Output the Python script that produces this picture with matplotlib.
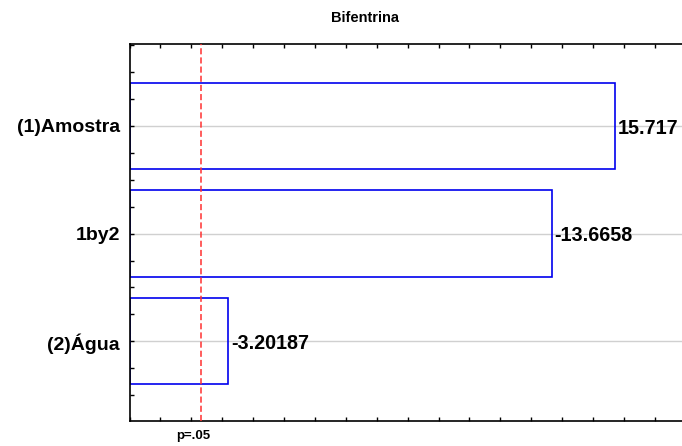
import numpy as np
import matplotlib
matplotlib.use("Agg")
import matplotlib.pyplot as plt
from matplotlib.ticker import MultipleLocator

# data
factors = ["(1)Amostra", "1by2", "(2)Água"]
effects = [15.717, -13.6658, -3.20187]
effect_labels = ["15.717", "-13.6658", "-3.20187"]
p_crit = 2.306  # t critical value, p=.05

plt.rcParams["font.family"] = ["Liberation Sans", "DejaVu Sans"]
plt.rcParams["font.weight"] = "bold"

fig = plt.figure(figsize=(6.82, 4.46), dpi=100)
ax = fig.add_axes([129.5 / 682, 1 - 421 / 446, 1 - 129.5 / 682, (421 - 44) / 446])

ypos = np.arange(len(factors))
vals = np.abs(effects)

# gridlines at each factor
for y in ypos:
    ax.axhline(y, color="#d0d0d0", lw=1.0, zorder=1)

ax.barh(ypos, vals, height=0.8, fill=False, edgecolor="#0000ee", lw=1.2, zorder=2)

for y, v, lab in zip(ypos, vals, effect_labels):
    ax.text(v + 0.08, y + 0.02, lab, va="center", ha="left", fontsize=14.2,
            fontweight="bold", zorder=3, clip_on=False)

ax.axvline(p_crit, color="#ff3030", ls=(0, (4, 2)), lw=1.1, zorder=3)

ax.set_xlim(0, 17.88)
ax.set_ylim(2.74, -0.76)
ax.set_yticks(ypos)
ax.set_yticklabels(factors, fontsize=14, fontweight="bold")
ax.yaxis.set_minor_locator(MultipleLocator(0.25))
ax.xaxis.set_major_locator(MultipleLocator(1))
ax.set_xticklabels([])
ax.tick_params(axis="both", which="both", direction="in", length=3, width=1,
               top=True, bottom=True, left=True, right=False)
ax.tick_params(axis="y", which="major", pad=7)

for s in ["left", "top", "bottom"]:
    ax.spines[s].set_linewidth(1.2)
ax.spines["right"].set_visible(False)

fig.text(365 / 682, 1 - 18 / 446, "Bifentrina", ha="center", va="center",
         fontsize=10.5, fontweight="bold")
fig.text(193 / 682, 1 - 436 / 446, "p=.05", ha="center", va="center",
         fontsize=9.5, fontweight="bold")

fig.savefig("out.png", dpi=100)
